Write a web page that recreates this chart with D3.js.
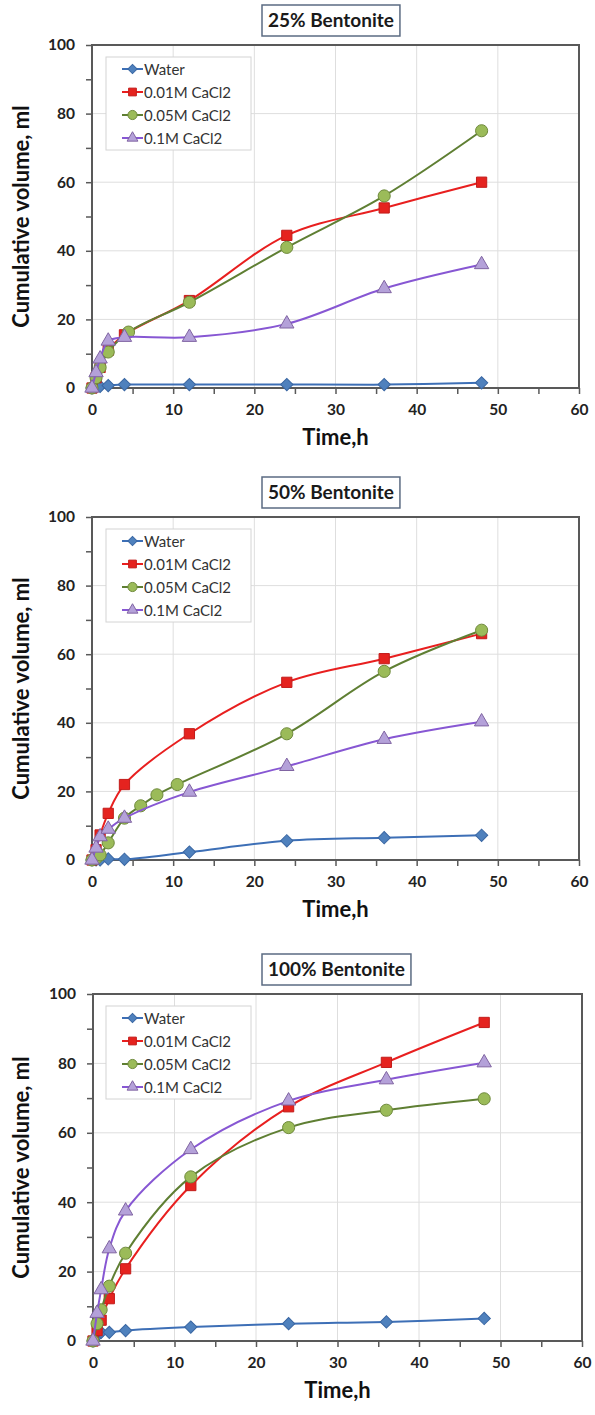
<!DOCTYPE html>
<html>
<head>
<meta charset="utf-8">
<script src="https://cdn.jsdelivr.net/npm/d3@7"></script>
<style>
body { margin: 0; background: #fff; }
svg { display: block; font-family: Lato, "Open Sans", sans-serif; }
</style>
</head>
<body>
<svg id="viz" width="595" height="1415"></svg>
<script>
const panelTitles = ["25% Bentonite", "50% Bentonite", "100% Bentonite"]
const seriesNames = ["Water", "0.01M CaCl2", "0.05M CaCl2", "0.1M CaCl2"]
const xTickValues = [0, 10, 20, 30, 40, 50, 60]
const yTickValues = [0, 20, 40, 60, 80, 100]

// 25% bentonite
const t25 = [0, 0.5, 1, 2, 4, 12, 24, 36, 48]
const t25Green = [0, 0.5, 1, 2, 4.5, 12, 24, 36, 48]
const water25 = [0, 0.3, 0.5, 0.7, 1, 1, 1, 1, 1.5]
const ca001_25 = [0, 3, 6, 11, 15.5, 25.5, 44.5, 52.5, 60]
const ca005_25 = [0, 3, 6, 10.5, 16.3, 25, 41, 56, 75]
const ca01_25 = [0, 4.5, 8.5, 13.7, 14.8, 14.8, 18.7, 29, 36]

// 50% bentonite
const t50 = [0, 0.5, 1, 2, 4, 12, 24, 36, 48]
const t50Green = [0, 0.5, 1, 2, 4, 6, 8, 10.5, 24, 36, 48]
const water50 = [0, 0, 0, 0.3, 0.2, 2.3, 5.6, 6.5, 7.2]
const ca001_50 = [0, 3, 7.3, 13.6, 22, 36.8, 51.8, 58.7, 66]
const ca005_50 = [0, 0.5, 1.5, 5, 12.2, 15.8, 19, 22, 36.8, 55, 67]
const ca01_50 = [0, 3.5, 6.8, 9, 12.2, 19.8, 27.3, 35.2, 40.3]

// 100% bentonite
const t100 = [0, 0.5, 1, 2, 4, 12, 24, 36, 48]
const water100 = [0, 1.5, 2.5, 2.5, 3, 4, 5, 5.5, 6.5]
const ca001_100 = [0, 3, 6, 12.2, 20.8, 44.8, 67.5, 80.3, 91.8]
const ca005_100 = [0, 5, 9, 15.8, 25.3, 47.3, 61.5, 66.5, 69.8]
const ca01_100 = [0, 8, 14.8, 26.6, 37.5, 55.2, 69.2, 75.3, 80.2]

const panelSeries = [
    [[t25, water25], [t25, ca001_25], [t25Green, ca005_25], [t25, ca01_25]],
    [[t50, water50], [t50, ca001_50], [t50Green, ca005_50], [t50, ca01_50]],
    [[t100, water100], [t100, ca001_100], [t100, ca005_100], [t100, ca01_100]]
]

const styles = [
    { line: "#3d6fb6", fill: "#4f81bd", stroke: "#3a67a3", shape: "diamond" },
    { line: "#e81f1f", fill: "#e5231f", stroke: "#c21c1a", shape: "square" },
    { line: "#5f7f33", fill: "#9bbb59", stroke: "#6f8a3c", shape: "circle" },
    { line: "#8757d3", fill: "#b4a1d9", stroke: "#8064a2", shape: "triangle" }
]

const layout = [
    { top: 45, bottom: 388, left: 92, right: 579 },
    { top: 517, bottom: 860, left: 92, right: 579 },
    { top: 994, bottom: 1341, left: 93, right: 582 }
]

const svg = d3.select("#viz")

function markerPath(shape, s) {
    if (shape == "diamond") return d3.symbol().type(d3.symbolSquare).size(s * 0.72)()
    if (shape == "square") return d3.symbol().type(d3.symbolSquare).size(s)()
    if (shape == "circle") return d3.symbol().type(d3.symbolCircle).size(s * 1.1)()
    return d3.symbol().type(d3.symbolTriangle).size(s * 0.85)()
}

panelTitles.forEach(function(title, i) {

    const L = layout[i]
    const x = d3.scaleLinear().domain([0, 60]).range([L.left, L.right])
    const y = d3.scaleLinear().domain([0, 100]).range([L.bottom, L.top])
    const g = svg.append("g")

    // gridlines
    g.append("g").selectAll("line")
        .data(d3.range(10, 60, 10))
        .enter().append("line")
        .attr("x1", d => x(d)).attr("x2", d => x(d))
        .attr("y1", L.top).attr("y2", L.bottom)
        .attr("stroke", "#dedede").attr("stroke-width", 1)
    g.append("g").selectAll("line")
        .data(d3.range(20, 100, 20))
        .enter().append("line")
        .attr("y1", d => y(d)).attr("y2", d => y(d))
        .attr("x1", L.left).attr("x2", L.right)
        .attr("stroke", "#dedede").attr("stroke-width", 1)

    // axes
    const xAxis = d3.axisBottom(x)
        .tickValues(d3.range(0, 61, 5))
        .tickSize(6).tickPadding(10)
        .tickFormat(d => xTickValues.includes(d) ? d : "")
    const yAxis = d3.axisLeft(y)
        .tickValues(d3.range(0, 101, 10))
        .tickSize(6).tickPadding(11)
        .tickFormat(d => yTickValues.includes(d) ? d : "")

    const ax = g.append("g").attr("transform", "translate(0," + L.bottom + ")").call(xAxis)
    const ay = g.append("g").attr("transform", "translate(" + L.left + ",0)").call(yAxis)
    for (const a of [ax, ay]) {
        a.select(".domain").remove()
        a.selectAll("line").attr("stroke", "#595959").attr("stroke-width", 1.5)
        a.selectAll("text")
            .attr("fill", "#222")
            .style("font-size", "15.5px")
            .style("font-weight", "bold")
            .style("font-family", "Lato, sans-serif")
    }

    // plot border
    g.append("rect")
        .attr("x", L.left).attr("y", L.top)
        .attr("width", L.right - L.left).attr("height", L.bottom - L.top)
        .attr("fill", "none").attr("stroke", "#595959").attr("stroke-width", 2)

    // series lines + markers
    const line = d3.line()
        .x(d => x(d[0])).y(d => y(d[1]))
        .curve(d3.curveCatmullRom.alpha(0.5))

    panelSeries[i].forEach(function(s, k) {
        const pts = s[0].map((t, j) => [t, s[1][j]])
        const st = styles[k]
        g.append("path")
            .datum(pts)
            .attr("d", line)
            .attr("fill", "none")
            .attr("stroke", st.line)
            .attr("stroke-width", 2)
        g.append("g").selectAll("path")
            .data(pts)
            .enter().append("path")
            .attr("d", markerPath(st.shape, 105))
            .attr("transform", d => "translate(" + x(d[0]) + "," + y(d[1]) + ")" + (st.shape == "diamond" ? " rotate(45)" : ""))
            .attr("fill", st.fill)
            .attr("stroke", st.stroke)
            .attr("stroke-width", 1)
    })

    // legend
    const lg = g.append("g").attr("transform", "translate(106," + (L.top + 12) + ")")
    lg.append("rect")
        .attr("width", 145).attr("height", 93)
        .attr("fill", "#fff").attr("stroke", "#d4d4d4").attr("stroke-width", 1)
    seriesNames.forEach(function(name, k) {
        const st = styles[k]
        const yy = 12 + k * 23
        lg.append("line")
            .attr("x1", 16).attr("x2", 37).attr("y1", yy).attr("y2", yy)
            .attr("stroke", st.line).attr("stroke-width", 2)
        lg.append("path")
            .attr("d", markerPath(st.shape, 60))
            .attr("transform", "translate(26.5," + yy + ")" + (st.shape == "diamond" ? " rotate(45)" : ""))
            .attr("fill", st.fill).attr("stroke", st.stroke).attr("stroke-width", 1)
        lg.append("text")
            .attr("x", 38).attr("y", yy + 5.5)
            .attr("fill", "#333")
            .style("font-size", "15px")
            .text(name)
    })

    // title box
    const tb = g.append("g").attr("transform", "translate(262," + (L.top - 40) + ")")
    const tt = tb.append("text")
        .attr("x", 6).attr("y", 22)
        .attr("fill", "#1a1a1a")
        .style("font-size", "19px").style("font-weight", "bold")
        .text(title)
    const tw = tt.node().getComputedTextLength()
    tb.insert("rect", "text")
        .attr("width", tw + 12).attr("height", 31)
        .attr("fill", "#fff").attr("stroke", "#5b6b82").attr("stroke-width", 1.5)

    // axis titles
    g.append("text")
        .attr("x", (L.left + L.right) / 2).attr("y", L.bottom + 57)
        .attr("text-anchor", "middle")
        .attr("fill", "#111")
        .style("font-size", "22px").style("font-weight", "bold")
        .text("Time,h")
    g.append("text")
        .attr("transform", "translate(29," + ((L.top + L.bottom) / 2) + ") rotate(-90)")
        .attr("text-anchor", "middle")
        .attr("fill", "#111")
        .style("font-size", "22px").style("font-weight", "bold")
        .text("Cumulative volume, ml")
})
</script>
</body>
</html>
